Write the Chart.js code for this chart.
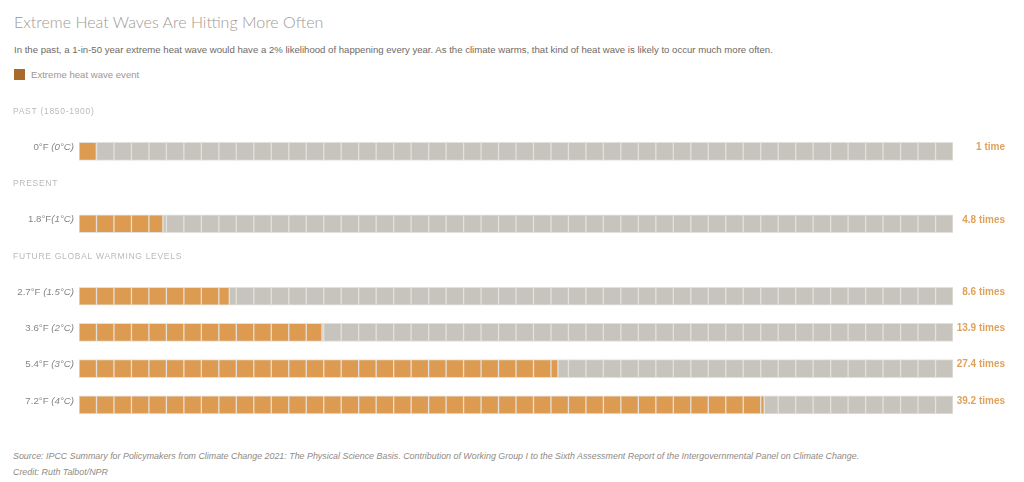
<!DOCTYPE html>
<html>
<head>
<meta charset="utf-8">
<script src="https://cdn.jsdelivr.net/npm/chart.js@4.4.1/dist/chart.umd.min.js"></script>
<style>
  html, body { margin: 0; padding: 0; background: #fff; }
  body { width: 1024px; height: 482px; position: relative; overflow: hidden; }
  .title { position: absolute; left: 14px; top: 12px; font-family: Lato, sans-serif; font-weight: 300; font-size: 16px; color: #9f9992; letter-spacing: 0px; white-space: nowrap; }
  .sub { position: absolute; left: 14px; top: 44px; font-family: "Liberation Sans", Arial, sans-serif; font-size: 9.6px; color: #6f6a66; white-space: nowrap; }
  .legend { position: absolute; left: 14px; top: 69px; font-family: "Liberation Sans", Arial, sans-serif; font-size: 9.6px; color: #9c9792; white-space: nowrap; line-height: 12px; }
  .legend span.sw { display: inline-block; width: 11px; height: 11px; background: #a86b2c; vertical-align: -2px; margin-right: 6px; }
  .foot { position: absolute; left: 13px; font-family: "Liberation Sans", Arial, sans-serif; font-style: italic; font-size: 8.9px; color: #8f8a86; white-space: nowrap; }
  #wrap { position: absolute; left: 0; top: 97px; width: 1024px; height: 326px; }
</style>
</head>
<body>
<div class="title">Extreme Heat Waves Are Hitting More Often</div>
<div class="sub">In the past, a 1-in-50 year extreme heat wave would have a 2% likelihood of happening every year. As the climate warms, that kind of heat wave is likely to occur much more often.</div>
<div class="legend"><span class="sw"></span>Extreme heat wave event</div>
<div id="wrap"><canvas id="heatChart"></canvas></div>
<div class="foot" style="top:451px">Source: IPCC Summary for Policymakers from Climate Change 2021: The Physical Science Basis. Contribution of Working Group I to the Sixth Assessment Report of the Intergovernmental Panel on Climate Change.</div>
<div class="foot" style="top:467px">Credit: Ruth Talbot/NPR</div>

<script>
// data
const totalYears = 50;
const sections = ["PAST (1850-1900)", "PRESENT", "FUTURE GLOBAL WARMING LEVELS"];
const sectionOf = [0, 1, 2, 2, 2, 2];
const tempF = ["0°F ", "1.8°F", "2.7°F ", "3.6°F ", "5.4°F ", "7.2°F "];
const tempC = ["(0°C)", "(1°C)", "(1.5°C)", "(2°C)", "(3°C)", "(4°C)"];
const timesMore = [1, 4.8, 8.6, 13.9, 27.4, 39.2];
const timesLabels = ["1 time", "4.8 times", "8.6 times", "13.9 times", "27.4 times", "39.2 times"];

const ORANGE = "#dc9b51";
const GREY = "#c7c4bd";

// build category list: a heading slot before each new section
const categories = [];
const heatData = [];
const restData = [];
const rowIndex = [];
let lastSection = -1;
tempF.forEach((f, i) => {
  if (sectionOf[i] !== lastSection) {
    lastSection = sectionOf[i];
    categories.push("h" + lastSection);
    heatData.push(null);
    restData.push(null);
    rowIndex.push(-1);
  }
  categories.push(f + tempC[i]);
  heatData.push(timesMore[i]);
  restData.push(totalYears - timesMore[i]);
  rowIndex.push(i);
});

const labelsPlugin = {
  id: "labels",
  afterDatasetsDraw(chart) {
    const ctx = chart.ctx;
    const x = chart.scales.x;
    const y = chart.scales.y;
    const area = chart.chartArea;
    const meta = chart.getDatasetMeta(0);

    // cell dividers inside each bar
    ctx.save();
    ctx.strokeStyle = "#e4e1dc";
    ctx.lineWidth = 1.3;
    meta.data.forEach((bar, k) => {
      if (rowIndex[k] < 0) return;
      const top = bar.y - bar.height / 2;
      const bottom = bar.y + bar.height / 2;
      for (let i = 1; i < totalYears; i++) {
        const px = x.getPixelForValue(i);
        ctx.beginPath();
        ctx.moveTo(px, top);
        ctx.lineTo(px, bottom);
        ctx.stroke();
      }
    });
    ctx.restore();

    ctx.save();
    ctx.textBaseline = "middle";
    categories.forEach((c, k) => {
      const cy = y.getPixelForValue(k);
      const r = rowIndex[k];
      if (r < 0) {
        ctx.font = "8.5px 'Liberation Sans', Arial, sans-serif";
        ctx.fillStyle = "#bdb9b5";
        ctx.textAlign = "left";
        ctx.letterSpacing = "0.7px";
        ctx.fillText(sections[Number(c.slice(1))], 13, cy - 3.5);
        ctx.letterSpacing = "0px";
        return;
      }
      // left label: normal F + italic C, right aligned
      const right = area.left - 5;
      ctx.textAlign = "right";
      ctx.fillStyle = "#8a8581";
      ctx.font = "italic 9.7px 'Liberation Sans', Arial, sans-serif";
      const wC = ctx.measureText(tempC[r]).width;
      ctx.fillText(tempC[r], right, cy - 4);
      ctx.font = "9.7px 'Liberation Sans', Arial, sans-serif";
      ctx.fillText(tempF[r], right - wC, cy - 4);
      // right label
      ctx.font = "bold 10px 'Liberation Sans', Arial, sans-serif";
      ctx.fillStyle = "#e0a25a";
      ctx.fillText(timesLabels[r], area.right + 52, cy - 4);
    });
    ctx.restore();
  }
};

new Chart(document.getElementById("heatChart"), {
  type: "bar",
  data: {
    labels: categories,
    datasets: [
      {
        label: "Extreme heat wave event",
        data: heatData,
        backgroundColor: ORANGE,
        borderColor: "#e4e1dc",
        borderWidth: 1,
        borderSkipped: false,
        barThickness: 18
      },
      {
        label: "Other years",
        data: restData,
        backgroundColor: GREY,
        borderColor: "#e4e1dc",
        borderWidth: 1,
        borderSkipped: false,
        barThickness: 18
      }
    ]
  },
  options: {
    indexAxis: "y",
    responsive: true,
    maintainAspectRatio: false,
    animation: false,
    layout: { padding: { left: 79, right: 71, top: 0, bottom: 0 } },
    scales: {
      x: { stacked: true, min: 0, max: totalYears, display: false },
      y: { stacked: true, display: false }
    },
    plugins: {
      legend: { display: false },
      tooltip: { enabled: false }
    }
  },
  plugins: [labelsPlugin]
});
</script>
</body>
</html>
